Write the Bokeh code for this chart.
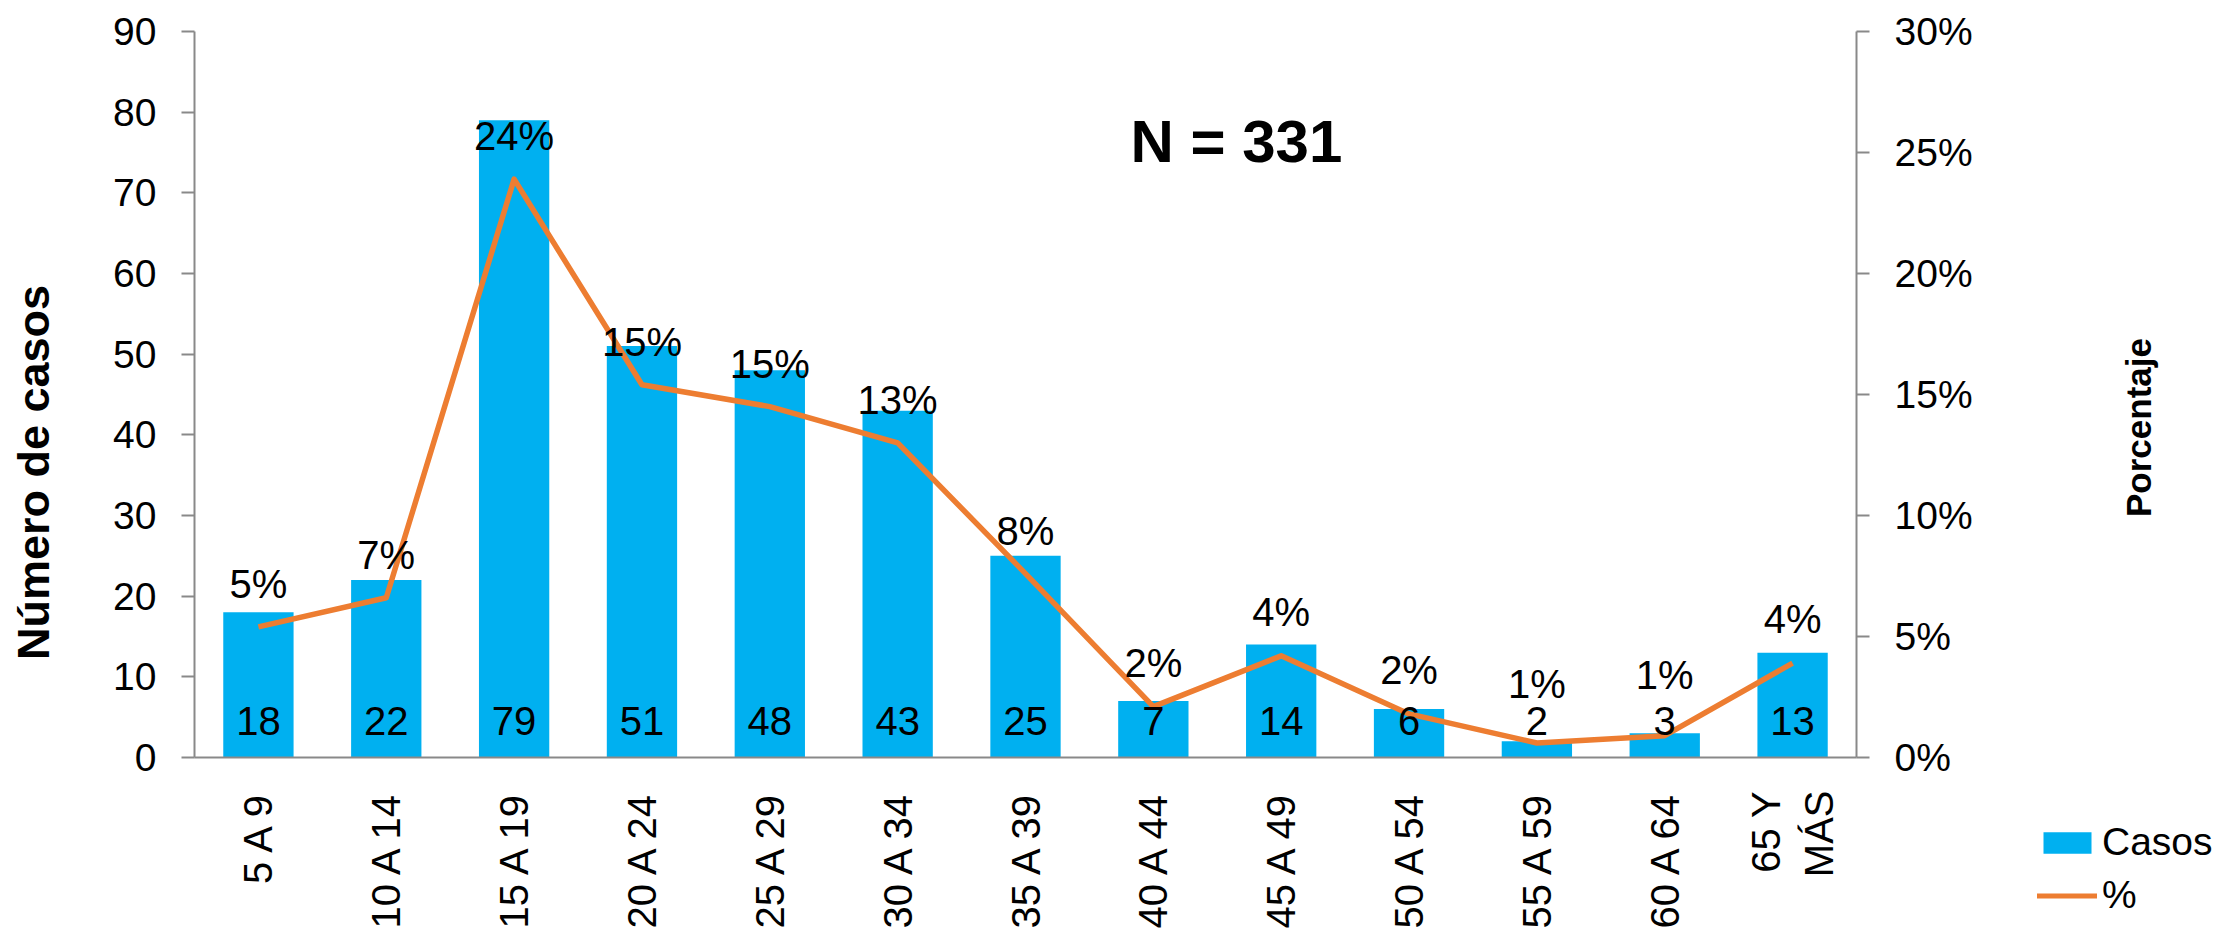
from math import pi
from bokeh.plotting import figure
from bokeh.layouts import column
from bokeh.core.properties import value
from bokeh.models import (Range1d, FactorRange, LinearAxis, SingleIntervalTicker, FixedTicker,
                          NumeralTickFormatter, LabelSet, Label, Legend, LegendItem,
                          ColumnDataSource)
from bokeh.embed import file_html
from bokeh.resources import INLINE

# ---- data ----
categories = ["5 A 9", "10 A 14", "15 A 19", "20 A 24", "25 A 29", "30 A 34", "35 A 39",
              "40 A 44", "45 A 49", "50 A 54", "55 A 59", "60 A 64", "65 Y\nMÁS"]
casos = [18, 22, 79, 51, 48, 43, 25, 7, 14, 6, 2, 3, 13]
porcentaje = [0.054, 0.066, 0.239, 0.154, 0.145, 0.130, 0.076, 0.021, 0.042, 0.018, 0.006, 0.009, 0.039]
pct_labels = ["5%", "7%", "24%", "15%", "15%", "13%", "8%", "2%", "4%", "2%", "1%", "1%", "4%"]
pct_ticks = [0, 0.05, 0.10, 0.15, 0.20, 0.25, 0.30]
n_total = "N = 331"

# ---- styles ----
FONT = "Liberation Sans"
BLUE = "#00B0F0"
ORANGE = "#ED7D31"
AXIS = "#898989"
W, H = 2222, 931
pct_label_offsets = [29, 29, 29, 29, 29, 29, 29, 30, 30, 30, 45, 47, 30]

src = ColumnDataSource(dict(
    cat=categories, casos=casos, pct=porcentaje,
    pct_text=pct_labels, casos_text=[str(c) for c in casos],
    zero=[0] * len(casos), pct_off=pct_label_offsets,
))

p = figure(width=W, height=H, output_backend="svg", toolbar_location=None,
           x_range=FactorRange(*categories), y_range=Range1d(0, 90),
           min_border_left=194, min_border_right=366, min_border_top=31,
           min_border_bottom=173, outline_line_color=None,
           background_fill_color="white", border_fill_color="white")
p.extra_y_ranges = {"pct": Range1d(0, 0.30)}
p.xgrid.visible = False
p.ygrid.visible = False

bars = p.vbar(x="cat", top="casos", width=0.55, source=src,
              fill_color=BLUE, line_color=None)
line = p.line(x="cat", y="pct", source=src, y_range_name="pct",
              line_color=ORANGE, line_width=5.5, line_join="round")

# axes
yl = p.yaxis[0]
yl.ticker = SingleIntervalTicker(interval=10, num_minor_ticks=0)

ax_r = LinearAxis(y_range_name="pct", ticker=FixedTicker(ticks=pct_ticks),
                  formatter=NumeralTickFormatter(format="0%"))
p.add_layout(ax_r, "right")

for ax in (yl, ax_r):
    ax.axis_line_color = AXIS
    ax.axis_line_width = 2
    ax.major_tick_line_color = AXIS
    ax.major_tick_line_width = 2
    ax.major_tick_out = 13
    ax.major_tick_in = 0
    ax.minor_tick_line_color = None
    ax.major_label_text_font = FONT
    ax.major_label_text_font_size = "39px"
    ax.major_label_text_color = "black"
    ax.major_label_standoff = 25

xa = p.xaxis[0]
xa.axis_line_color = AXIS
xa.axis_line_width = 2
xa.major_tick_line_color = None
xa.minor_tick_line_color = None
xa.major_tick_out = 0
xa.major_tick_in = 0
xa.major_label_orientation = pi / 2
xa.major_label_text_font = FONT
xa.major_label_text_font_size = "40px"
xa.major_label_text_color = "black"
xa.major_label_standoff = 33

# data labels
p.add_layout(LabelSet(x="cat", y="zero", text="casos_text", source=src,
                      y_offset=23, text_align="center", text_baseline="alphabetic",
                      text_font=value(FONT), text_font_size=value("40px"),
                      text_color="black"))
p.add_layout(LabelSet(x="cat", y="pct", text="pct_text", source=src,
                      y_range_name="pct", y_offset="pct_off",
                      text_align="center", text_baseline="alphabetic",
                      text_font=value(FONT), text_font_size=value("40px"),
                      text_color="black"))

p.add_layout(Label(x=8.15, y=76.4, text=n_total, text_align="center",
                   text_baseline="middle", text_font=FONT, text_font_style="bold",
                   text_font_size="60px", text_color="black"))

# ---- overlay with axis titles and legend (outside the plotting frame) ----
ov = figure(width=W, height=H, output_backend="svg", toolbar_location=None,
            x_range=Range1d(0, W), y_range=Range1d(0, H),
            x_axis_location=None, y_axis_location=None, min_border=0,
            outline_line_color=None, background_fill_alpha=0, border_fill_alpha=0,
            margin=(-H, 0, 0, 0))
ov.grid.visible = False
if "frame_align" in ov.properties():
    ov.frame_align = False
    p.frame_align = False

ov.add_layout(Label(x=33, y=459, text="Número de casos", angle=pi / 2,
                    text_align="center", text_baseline="alphabetic", text_font=FONT,
                    text_font_style="bold", text_font_size="45px", text_color="black"))
ov.add_layout(Label(x=2138, y=504, text="Porcentaje", angle=pi / 2,
                    text_align="center", text_baseline="alphabetic", text_font=FONT,
                    text_font_style="bold", text_font_size="35px", text_color="black"))

# legend proxies (zero-size marks, only used to draw the legend swatches)
leg_bar = ov.vbar(x=[0], top=[0], width=0, fill_color=BLUE, line_color=None)
leg_line = ov.line(x=[0], y=[0], line_color=ORANGE, line_width=5, line_cap="round")
legend = Legend(items=[LegendItem(label="Casos", renderers=[leg_bar]),
                       LegendItem(label="%", renderers=[leg_line])],
                location=(2037, 14), orientation="vertical",
                glyph_width=60, glyph_height=27, label_standoff=5, spacing=9,
                padding=0, margin=0, border_line_color=None,
                background_fill_alpha=0, label_text_font=FONT,
                label_text_font_size="39px", label_text_color="black")
ov.add_layout(legend)

layout = column(p, ov, spacing=0)
open("out.html", "w").write(file_html(layout, INLINE))
